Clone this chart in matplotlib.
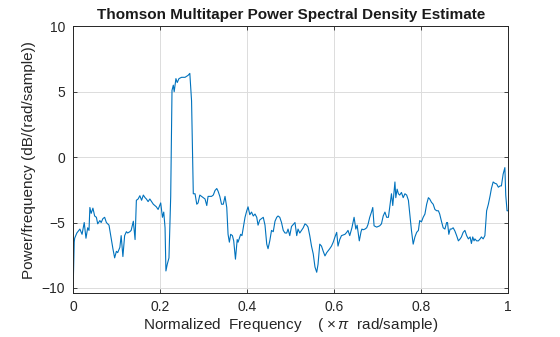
import matplotlib
matplotlib.use('Agg')
import matplotlib.pyplot as plt

plt.rcParams['font.family'] = ['Liberation Sans', 'DejaVu Sans']
plt.rcParams['mathtext.fontset'] = 'custom'
plt.rcParams['mathtext.rm'] = 'Liberation Sans'
plt.rcParams['mathtext.it'] = 'Liberation Sans:italic'

# normalized frequency (x pi rad/sample) and PSD in dB/(rad/sample)
freq = [0.000, 0.002, 0.003, 0.008, 0.015, 0.020, 0.025, 0.029, 0.033, 0.036,
        0.038, 0.041, 0.045, 0.049, 0.053, 0.056, 0.061, 0.064, 0.068, 0.072,
        0.076, 0.082, 0.088, 0.091, 0.095, 0.099, 0.102, 0.107, 0.110, 0.114,
        0.118, 0.122, 0.125, 0.130, 0.133, 0.138, 0.142, 0.145, 0.149, 0.153,
        0.157, 0.161, 0.165, 0.168, 0.172, 0.176, 0.184, 0.191, 0.195, 0.201,
        0.205, 0.208, 0.211, 0.213, 0.216, 0.220, 0.224, 0.227, 0.230, 0.232,
        0.236, 0.239, 0.243, 0.249, 0.257, 0.264, 0.268, 0.272, 0.276, 0.280,
        0.284, 0.287, 0.291, 0.299, 0.303, 0.307, 0.310, 0.318, 0.322, 0.326,
        0.330, 0.333, 0.337, 0.341, 0.345, 0.349, 0.353, 0.356, 0.359, 0.362,
        0.366, 0.369, 0.373, 0.377, 0.379, 0.385, 0.388, 0.391, 0.395, 0.399,
        0.402, 0.406, 0.410, 0.414, 0.418, 0.422, 0.425, 0.429, 0.437, 0.441,
        0.445, 0.448, 0.452, 0.456, 0.460, 0.464, 0.468, 0.471, 0.475, 0.479,
        0.483, 0.487, 0.491, 0.494, 0.498, 0.502, 0.506, 0.510, 0.514, 0.517,
        0.521, 0.525, 0.529, 0.533, 0.537, 0.540, 0.544, 0.548, 0.552, 0.556,
        0.560, 0.563, 0.567, 0.571, 0.575, 0.579, 0.583, 0.590, 0.594, 0.598,
        0.602, 0.606, 0.609, 0.613, 0.617, 0.625, 0.629, 0.632, 0.636, 0.641,
        0.646, 0.650, 0.653, 0.658, 0.662, 0.664, 0.667, 0.671, 0.675, 0.678,
        0.682, 0.686, 0.689, 0.692, 0.698, 0.705, 0.709, 0.713, 0.717, 0.721,
        0.725, 0.728, 0.732, 0.735, 0.738, 0.740, 0.742, 0.745, 0.748, 0.751,
        0.755, 0.759, 0.763, 0.767, 0.771, 0.774, 0.778, 0.782, 0.786, 0.790,
        0.794, 0.797, 0.801, 0.805, 0.809, 0.813, 0.817, 0.820, 0.824, 0.828,
        0.832, 0.836, 0.840, 0.843, 0.847, 0.851, 0.855, 0.859, 0.861, 0.864,
        0.867, 0.870, 0.874, 0.878, 0.882, 0.886, 0.890, 0.893, 0.897, 0.901,
        0.905, 0.909, 0.913, 0.916, 0.919, 0.922, 0.924, 0.928, 0.932, 0.936,
        0.939, 0.943, 0.947, 0.951, 0.955, 0.959, 0.962, 0.966, 0.970, 0.974,
        0.978, 0.982, 0.985, 0.989, 0.993, 0.995, 0.998, 1.000]
psd_db = [-9.3, -6.5, -6.2, -5.8, -5.5, -5.9, -5.0, -6.2, -5.4, -5.6,
          -3.85, -4.3, -3.9, -4.5, -4.6, -5.1, -4.85, -5.0, -4.7, -4.6,
          -5.0, -5.2, -6.4, -7.0, -7.7, -7.2, -7.3, -6.9, -6.0, -7.6,
          -6.0, -5.7, -5.8, -5.7, -5.6, -4.9, -6.3, -3.3, -3.2, -2.95,
          -3.3, -2.9, -3.1, -3.2, -3.4, -3.2, -3.6, -3.8, -4.0, -3.5,
          -4.6, -4.2, -5.4, -8.7, -8.2, -7.7, -3.0, 5.1, 5.5, 5.0,
          6.0, 5.7, 6.0, 6.1, 6.1, 6.25, 6.4, 4.3, -2.8, -2.8,
          -3.6, -3.5, -2.9, -3.1, -3.2, -3.7, -3.0, -3.0, -2.9, -2.55,
          -2.4, -2.6, -3.0, -3.6, -3.6, -3.0, -3.85, -5.9, -6.5, -5.9,
          -6.0, -6.4, -7.8, -6.3, -6.5, -5.9, -6.0, -5.4, -4.6, -4.1,
          -3.8, -4.4, -4.2, -4.5, -4.35, -4.6, -5.2, -4.8, -4.6, -5.2,
          -6.65, -7.0, -6.4, -5.6, -5.7, -4.9, -4.6, -4.5, -4.6, -5.0,
          -5.6, -5.8, -5.8, -5.5, -6.0, -5.3, -5.15, -5.0, -6.0, -5.5,
          -5.8, -5.6, -5.4, -5.1, -5.2, -5.35, -6.0, -6.8, -7.4, -8.4,
          -8.8, -8.2, -6.65, -6.8, -7.2, -7.55, -7.3, -7.0, -6.8, -6.5,
          -6.1, -5.75, -6.8, -6.3, -6.0, -5.9, -5.75, -5.6, -6.0, -5.4,
          -4.6, -5.5, -5.2, -6.4, -5.7, -5.5, -5.55, -5.5, -5.4, -5.15,
          -4.6, -4.2, -3.85, -5.25, -5.35, -5.25, -5.1, -4.5, -4.2, -4.6,
          -4.6, -3.8, -2.8, -3.7, -2.6, -1.9, -3.1, -2.45, -2.8, -2.9,
          -2.7, -3.1, -2.8, -2.9, -3.3, -4.3, -5.6, -6.65, -6.1, -5.75,
          -5.6, -4.85, -4.95, -4.6, -4.35, -3.6, -3.1, -3.2, -3.45, -3.6,
          -4.0, -4.1, -4.1, -4.35, -4.9, -5.4, -5.5, -5.0, -5.0, -5.9,
          -5.5, -5.5, -5.4, -5.65, -6.0, -6.4, -6.25, -6.1, -5.75, -5.6,
          -6.0, -6.25, -6.1, -6.6, -6.1, -6.4, -6.25, -6.4, -6.4, -6.25,
          -6.1, -6.25, -6.0, -4.1, -3.6, -2.95, -2.4, -1.9, -2.0, -2.05,
          -2.3, -2.2, -2.2, -1.3, -0.8, -2.9, -4.1, -4.1]

x_ticks = [0, 0.2, 0.4, 0.6, 0.8, 1]
x_tick_labels = ['0', '0.2', '0.4', '0.6', '0.8', '1']
y_ticks = [-10, -5, 0, 5, 10]

fig = plt.figure(figsize=(5.6, 3.37), dpi=100)
ax = fig.add_axes([0.131, 0.13, 0.776, 0.792])

ax.plot(freq, psd_db, color='#0072BD', linewidth=0.8)

ax.set_xlim(0, 1)
ax.set_ylim(-10.4, 10)
ax.set_xticks(x_ticks)
ax.set_xticklabels(x_tick_labels)
ax.set_yticks(y_ticks)

ax.grid(True, color='#dcdcdc', linewidth=0.7)
ax.set_axisbelow(True)
ax.tick_params(direction='in', length=3, width=0.6, top=True, right=True,
               labelsize=10, colors='#262626', pad=6)
ax.tick_params(axis='x', pad=5)
for s in ax.spines.values():
    s.set_color('#262626')
    s.set_linewidth(0.7)

ax.set_title('Thomson Multitaper Power Spectral Density Estimate',
             fontsize=11, fontweight='bold', color='#1a1a1a', pad=5)
ax.set_xlabel(r'Normalized  Frequency    ( $\times\,\mathit{\pi}$  rad/sample)',
              fontsize=11, color='#262626', labelpad=1)
ax.set_ylabel('Power/frequency (dB/(rad/sample))', fontsize=11,
              color='#262626', labelpad=4)

fig.savefig('out.png', dpi=100)
